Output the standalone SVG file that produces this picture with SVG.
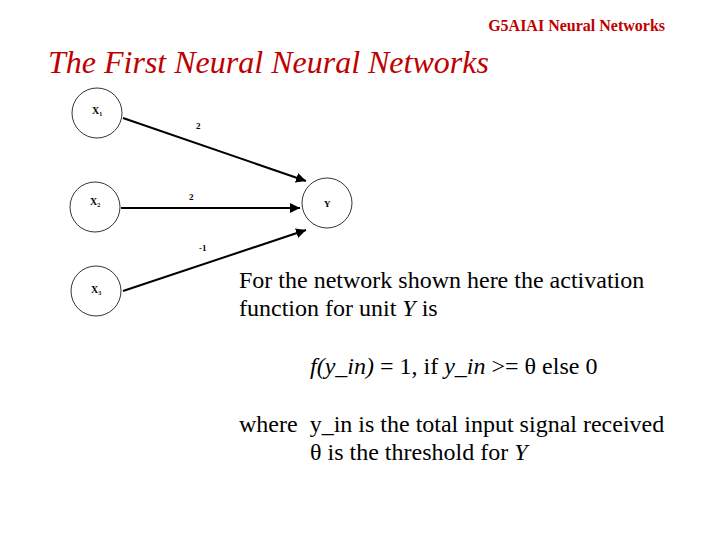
<svg xmlns="http://www.w3.org/2000/svg" width="720" height="540" viewBox="0 0 720 540">
<style>
.n{fill:#fff;stroke:#000;stroke-width:0.8}
.nl{font-family:"Liberation Serif",serif;font-size:10px;font-weight:bold}
.sub{font-size:6px}
.w{font-family:"Liberation Serif",serif;font-size:9px;font-weight:bold}
.e{stroke:#000;stroke-width:2;fill:none;marker-end:url(#a)}
.t{font-family:"Liberation Serif",serif;font-size:24px}
</style>
<defs><marker id="a" viewBox="0 0 10 10" refX="10" refY="5" markerWidth="5" markerHeight="5" orient="auto" markerUnits="strokeWidth"><path d="M0,0L10,5L0,10z"/></marker></defs>
<rect width="720" height="540" fill="#fff"/>
<text x="665" y="31" text-anchor="end" font-family="Liberation Serif,serif" font-size="16" font-weight="bold" fill="#c00000">G5AIAI  Neural Networks</text>
<text x="48" y="73" font-family="Liberation Serif,serif" font-size="32" font-style="italic" fill="#c00000">The First Neural Neural Networks</text>
<g id="x1"><circle class="n" cx="97" cy="113" r="25"/><text class="nl" x="92" y="114">X<tspan class="sub" dy="2">1</tspan></text></g>
<g id="x2"><circle class="n" cx="95" cy="207" r="25"/><text class="nl" x="90" y="205">X<tspan class="sub" dy="2">2</tspan></text></g>
<g id="x3"><circle class="n" cx="96" cy="291" r="25"/><text class="nl" x="91" y="293">X<tspan class="sub" dy="2">3</tspan></text></g>
<g id="y"><circle class="n" cx="327" cy="203" r="25"/><text class="nl" x="324" y="207" style="font-size:9px">Y</text></g>
<g id="edges">
<line class="e" x1="123" y1="118" x2="306" y2="181"/>
<line class="e" x1="121" y1="208" x2="300" y2="208"/>
<line class="e" x1="123" y1="291" x2="306" y2="230"/>
<text class="w" x="196" y="129">2</text>
<text class="w" x="189" y="200">2</text>
<text class="w" x="199" y="251">-1</text>
</g>
<text class="t" x="239" y="288">For the network shown here the activation</text>
<text class="t" x="239" y="316">function for unit <tspan font-style="italic">Y</tspan> is</text>
<text class="t" x="310" y="374"><tspan font-style="italic">f(y_in)</tspan> = 1, if <tspan font-style="italic">y_in</tspan> &gt;= θ else 0</text>
<text class="t" x="239" y="432" xml:space="preserve">where  y_in is the total input signal received</text>
<text class="t" x="310" y="460">θ is the threshold for <tspan font-style="italic">Y</tspan></text>
</svg>
